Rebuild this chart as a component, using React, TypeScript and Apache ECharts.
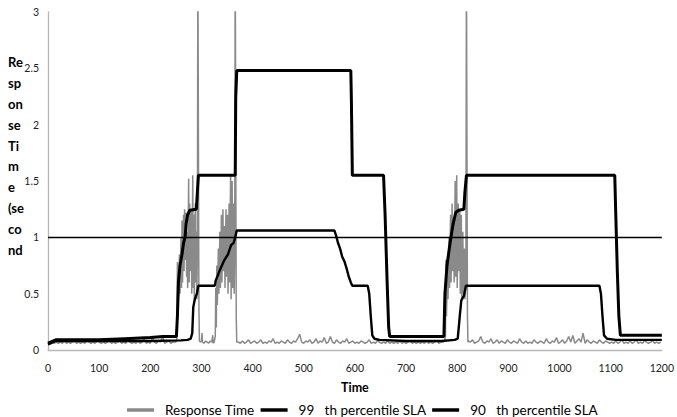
import React, { useEffect, useRef } from "react";
import * as echarts from "echarts";

// ---- Axis / labels ----
const xMin = 0;
const xMax = 1200;
const xStep = 100;
const yMin = 0;
const yMax = 3;
const yStep = 0.5;
const slaThreshold = 1;
const xAxisTitle = "Time";
const yAxisTitleLines = ["Re", "sp", "on", "se", "Ti", "m", "e", "(se", "co", "nd"];
const seriesNames = [
  "Response Time",
  "99\u00a0\u00a0\u00a0th percentile SLA",
  "90\u00a0\u00a0\u00a0th percentile SLA",
];

// ---- Response time: quiet baseline stretches (start time, step, values) ----
const rtBase1Start = 0;
const rtBase1Step = 4;
const rtBase1 = [
  0.05, 0.05, 0.06, 0.06, 0.07, 0.06, 0.07, 0.06, 0.08, 0.06,
  0.07, 0.06, 0.07, 0.08, 0.06, 0.07, 0.06, 0.07, 0.06, 0.08,
  0.07, 0.06, 0.07, 0.06, 0.08, 0.07, 0.06, 0.07, 0.06, 0.07,
  0.08, 0.06, 0.07, 0.06, 0.07, 0.08, 0.06, 0.07, 0.06, 0.09,
  0.07, 0.06, 0.07, 0.06, 0.08, 0.06, 0.07, 0.1, 0.06, 0.07,
  0.06, 0.11, 0.07, 0.06, 0.08, 0.07, 0.12, 0.06, 0.07, 0.08,
  0.06, 0.07, 0.07,
];
const rtBase2Start = 372;
const rtBase2Step = 4;
const rtBase2 = [
  0.07, 0.06, 0.08, 0.06, 0.07, 0.09, 0.06, 0.07, 0.08, 0.06,
  0.07, 0.09, 0.06, 0.07, 0.06, 0.08, 0.07, 0.1, 0.06, 0.07,
  0.06, 0.08, 0.07, 0.06, 0.09, 0.07, 0.06, 0.08, 0.07, 0.1,
  0.14, 0.07, 0.06, 0.08, 0.07, 0.09, 0.06, 0.07, 0.1, 0.06,
  0.08, 0.07, 0.11, 0.06, 0.07, 0.12, 0.07, 0.06, 0.09, 0.07,
  0.06, 0.08, 0.07, 0.1, 0.06, 0.07, 0.08, 0.06, 0.07, 0.06,
  0.08, 0.07, 0.06, 0.07, 0.09, 0.06, 0.07, 0.06, 0.08, 0.07,
  0.06, 0.07, 0.06, 0.08, 0.06, 0.07, 0.06, 0.07, 0.06, 0.08,
  0.06, 0.07, 0.06, 0.07, 0.08, 0.06, 0.07, 0.06, 0.07, 0.06,
  0.07, 0.06, 0.08, 0.06, 0.07, 0.06, 0.07, 0.08, 0.06, 0.07,
  0.07,
];
const rtBase3Start = 822;
const rtBase3Step = 4;
const rtBase3 = [
  0.08, 0.07, 0.09, 0.06, 0.07, 0.08, 0.12, 0.07, 0.06, 0.08,
  0.07, 0.1, 0.06, 0.07, 0.09, 0.06, 0.08, 0.07, 0.06, 0.09,
  0.07, 0.06, 0.08, 0.07, 0.06, 0.1, 0.07, 0.06, 0.08, 0.06,
  0.07, 0.06, 0.09, 0.07, 0.06, 0.08, 0.07, 0.06, 0.1, 0.07,
  0.06, 0.08, 0.07, 0.11, 0.06, 0.07, 0.09, 0.06, 0.08, 0.12,
  0.07, 0.13, 0.06, 0.08, 0.1, 0.07, 0.15, 0.06, 0.09, 0.07,
  0.06, 0.08, 0.07, 0.06, 0.09, 0.07, 0.06, 0.08, 0.07, 0.06,
  0.07, 0.06, 0.08, 0.06, 0.07, 0.09, 0.06, 0.07, 0.06, 0.08,
  0.06, 0.07, 0.09, 0.06, 0.07, 0.06, 0.08, 0.07, 0.06, 0.07,
  0.08, 0.06, 0.07, 0.06, 0.07,
];

// ---- Response time: bursts [time, seconds] ----
const rtBurst1 = [
  [250, 0.07], [252, 0.1], [253, 0.78], [254, 0.3], [256, 0.6], [257, 0.85], [258, 0.5],
  [260, 1.0], [261, 0.55], [262, 1.15], [263, 0.6], [265, 1.2], [266, 0.7], [267, 1.25],
  [268, 0.8], [270, 1.22], [271, 0.65], [272, 1.05], [273, 0.55], [275, 1.52], [276, 0.6],
  [277, 1.3], [278, 0.7], [280, 1.25], [281, 0.5], [283, 1.55], [284, 0.55], [285, 1.2],
  [286, 0.45], [288, 1.3], [289, 0.6], [290, 1.05], [291, 0.45], [292, 0.9], [293, 3.5],
  [294, 3.5], [295, 0.4], [296, 0.08],
];
const rtGap = [
  [298, 0.07], [300, 0.08], [301, 0.15], [302, 0.07], [305, 0.06], [308, 0.08], [311, 0.07],
  [314, 0.06], [317, 0.08], [320, 0.07], [322, 0.13], [323, 0.06], [325, 0.07], [326, 0.1],
];
const rtBurst2 = [
  [327, 0.12], [328, 0.55], [329, 0.2], [330, 0.75], [331, 0.4], [333, 0.9], [334, 0.5],
  [336, 1.05], [337, 0.55], [339, 1.2], [340, 0.6], [342, 1.25], [343, 0.7], [345, 1.1],
  [346, 0.55], [348, 1.25], [349, 0.65], [351, 1.2], [352, 0.5], [354, 1.3], [355, 0.6],
  [357, 1.55], [358, 0.45], [360, 1.5], [361, 0.55], [363, 1.3], [364, 0.5], [365, 0.9],
  [366, 3.5], [367, 3.5], [368, 0.3], [369, 0.07],
];
const rtBurst3 = [
  [775, 0.08], [777, 0.12], [778, 0.8], [779, 0.3], [781, 0.75], [782, 0.45], [784, 1.0],
  [785, 0.55], [787, 1.2], [788, 0.6], [790, 1.3], [791, 0.7], [793, 1.15], [794, 0.6],
  [796, 1.5], [797, 0.65], [799, 1.55], [800, 0.55], [802, 1.3], [803, 0.7], [805, 1.25],
  [806, 0.5], [808, 1.2], [809, 0.45], [811, 1.05], [812, 0.5], [814, 0.9], [815, 0.45],
  [817, 0.6], [818, 3.5], [819, 3.5], [820, 0.3], [821, 0.07],
];

// ---- 99th percentile SLA [time, seconds] ----
const sla99 = [
  [0, 0.06], [5, 0.07], [15, 0.09], [20, 0.09], [100, 0.09], [150, 0.1], [200, 0.11],
  [225, 0.12], [251, 0.12], [253, 0.3], [255, 0.6], [258, 0.75], [262, 0.85], [265, 0.95],
  [268, 1.0], [270, 1.12], [273, 1.2], [277, 1.24], [290, 1.25], [292, 1.4], [294, 1.55],
  [366, 1.55], [367, 2.24], [369, 2.48], [592, 2.48], [593, 2.25], [595, 1.55], [656, 1.55],
  [659, 1.2], [663, 0.6], [666, 0.2], [668, 0.12], [774, 0.12], [776, 0.5], [780, 0.75],
  [786, 0.95], [792, 1.12], [797, 1.22], [803, 1.24], [813, 1.25], [815, 1.4], [818, 1.55],
  [1108, 1.55], [1110, 1.2], [1113, 0.7], [1116, 0.3], [1119, 0.13], [1200, 0.13],
];

// ---- 90th percentile SLA [time, seconds] ----
const sla90 = [
  [0, 0.05], [5, 0.06], [15, 0.08], [100, 0.08], [200, 0.08], [260, 0.085], [273, 0.09],
  [279, 0.1], [282, 0.15], [284, 0.38], [287, 0.45], [291, 0.5], [294, 0.57], [326, 0.57],
  [328, 0.62], [331, 0.65], [335, 0.7], [340, 0.75], [345, 0.8], [352, 0.85], [358, 0.93],
  [363, 0.95], [366, 1.0], [369, 1.06], [560, 1.06], [563, 1.02], [567, 0.95], [571, 0.9],
  [575, 0.83], [580, 0.78], [584, 0.72], [588, 0.65], [592, 0.6], [595, 0.57], [625, 0.57],
  [628, 0.5], [631, 0.3], [634, 0.13], [638, 0.1], [648, 0.09], [700, 0.08], [770, 0.08],
  [795, 0.09], [801, 0.1], [805, 0.3], [808, 0.44], [813, 0.48], [817, 0.57], [1078, 0.57],
  [1081, 0.5], [1084, 0.3], [1087, 0.13], [1093, 0.1], [1110, 0.09], [1200, 0.09],
];

const stretch = (start: number, step: number, vals: number[]) =>
  vals.map((v, i) => [start + i * step, v]);

const FONT = "Lato, 'Open Sans', sans-serif";

export default function App() {
  const ref = useRef<HTMLDivElement>(null);

  useEffect(() => {
    if (!ref.current) return;
    const chart = echarts.init(ref.current, undefined, { renderer: "svg" });

    const responseTime = [
      ...stretch(rtBase1Start, rtBase1Step, rtBase1),
      ...rtBurst1,
      ...rtGap,
      ...rtBurst2,
      ...stretch(rtBase2Start, rtBase2Step, rtBase2),
      ...rtBurst3,
      ...stretch(rtBase3Start, rtBase3Step, rtBase3),
    ];

    chart.setOption({
      animation: false,
      backgroundColor: "#ffffff",
      textStyle: { fontFamily: FONT },
      grid: { left: 48, right: 10, top: 12, bottom: 67, containLabel: false },
      legend: {
        left: 122,
        top: 398,
        itemWidth: 27,
        itemHeight: 3.5,
        itemGap: 6,
        icon: "rect",
        textStyle: { fontFamily: FONT, fontSize: 13.5, color: "#000000", padding: [0, 0, 0, 6] },
        data: [
          { name: seriesNames[0], itemStyle: { color: "#8a8a8a" } },
          { name: seriesNames[1], itemStyle: { color: "#000000" } },
          { name: seriesNames[2], itemStyle: { color: "#000000" } },
        ],
      },
      xAxis: {
        type: "value",
        min: xMin,
        max: xMax,
        interval: xStep,
        name: xAxisTitle,
        nameLocation: "middle",
        nameGap: 31,
        nameTextStyle: { fontFamily: FONT, fontSize: 12.5, fontWeight: "bold", color: "#000000" },
        axisLine: { show: true, lineStyle: { color: "#b8b8b8", width: 1.3 } },
        axisTick: { show: false },
        splitLine: { show: false },
        axisLabel: {
          fontFamily: FONT,
          fontSize: 10.5,
          color: "#222222",
          margin: 12,
          formatter: (v: number) => String(v),
        },
      },
      yAxis: {
        type: "value",
        min: yMin,
        max: yMax,
        interval: yStep,
        axisLine: { show: true, lineStyle: { color: "#b8b8b8", width: 1.3 } },
        axisTick: { show: false },
        splitLine: { show: false },
        axisLabel: {
          fontFamily: FONT,
          fontSize: 10.5,
          color: "#222222",
          margin: 9,
          formatter: (v: number) => String(v),
        },
      },
      graphic: [
        {
          type: "text",
          left: 8,
          top: 52,
          style: {
            text: yAxisTitleLines.join("\n"),
            fontFamily: FONT,
            fontSize: 13,
            fontWeight: "bold",
            fill: "#000000",
            lineHeight: 20.8,
            align: "center",
            width: 22,
          },
        },
      ],
      series: [
        {
          name: seriesNames[0],
          type: "line",
          data: responseTime,
          symbol: "none",
          clip: true,
          lineStyle: { color: "#8a8a8a", width: 1.5 },
          itemStyle: { color: "#8a8a8a" },
          z: 2,
        },
        {
          name: seriesNames[1],
          type: "line",
          data: sla99,
          symbol: "none",
          clip: true,
          lineStyle: { color: "#000000", width: 3 },
          itemStyle: { color: "#000000" },
          z: 3,
        },
        {
          name: seriesNames[2],
          type: "line",
          data: sla90,
          symbol: "none",
          clip: true,
          lineStyle: { color: "#000000", width: 2.4 },
          itemStyle: { color: "#000000" },
          z: 4,
          markLine: {
            silent: true,
            symbol: "none",
            label: { show: false },
            lineStyle: { color: "#000000", width: 1.3, type: "solid" },
            data: [{ yAxis: slaThreshold }],
          },
        },
      ],
    });

    return () => chart.dispose();
  }, []);

  return (
    <div
      ref={ref}
      style={{ position: "fixed", left: 0, top: 0, width: 677, height: 417, background: "#fff" }}
    />
  );
}
